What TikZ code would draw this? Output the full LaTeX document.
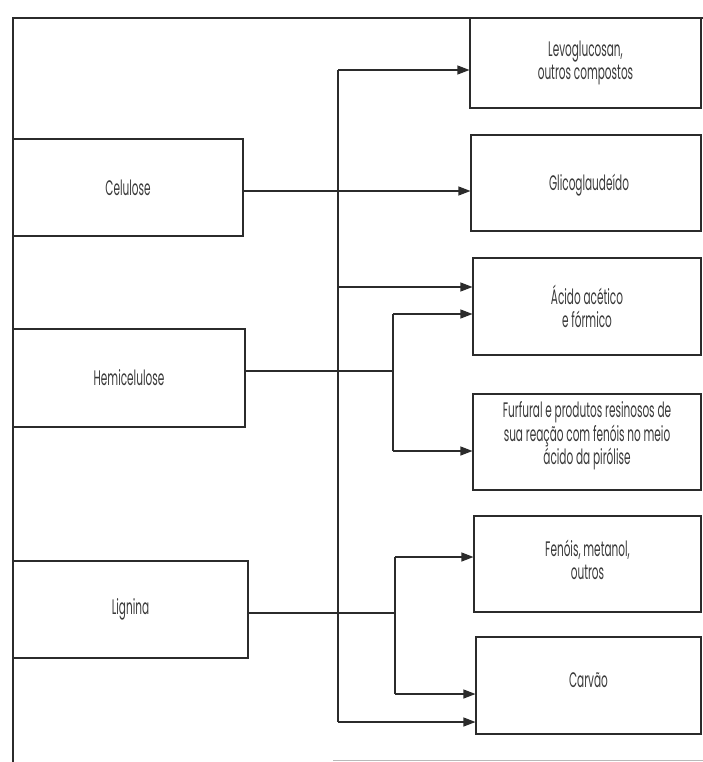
\documentclass[tikz,border=0pt]{standalone}
\usepackage{fontspec}
\setmainfont{Poppins}[FakeStretch=0.5]
\usetikzlibrary{arrows.meta}
\definecolor{ink}{HTML}{2B2B2B}
\definecolor{txt}{HTML}{3A3A3A}
\begin{document}
\begin{tikzpicture}[x=1pt,y=-1pt,
  box/.style={draw=ink, line width=1.1pt, inner sep=0pt, rectangle},
  lbl/.style={text=txt, font=\fontsize{21}{23.5}\selectfont, align=center, inner sep=0pt},
  conn/.style={draw=ink, line width=1.1pt},
  arr/.style={conn, -{Triangle[length=12pt,width=9pt]}}]
\useasboundingbox (0,0) rectangle (703,762);

% outer frame
\draw[conn] (13,762) -- (13,18) -- (703,18);
\draw[gray!55, line width=1pt] (333,760) -- (703,760);

% left boxes
\node[box, lbl, minimum width=230pt, minimum height=97pt] (cel) at (128,187.5) {Celulose};
\node[box, lbl, minimum width=232pt, minimum height=98pt] (hemi) at (129,378) {Hemicelulose};
\node[box, lbl, minimum width=235pt, minimum height=97pt] (lig) at (130.5,609.5) {Lignina};

% right boxes
\node[box, minimum width=231pt, minimum height=90pt] (levo) at (585.5,63) {};
\node[box, minimum width=230pt, minimum height=96pt] (glico) at (586,183) {};
\node[box, minimum width=228pt, minimum height=97pt] (acido) at (587,306.5) {};
\node[box, minimum width=228pt, minimum height=96pt] (furf) at (587,442) {};
\node[box, minimum width=227pt, minimum height=96pt] (fenol) at (587.5,564) {};
\node[box, minimum width=225pt, minimum height=97pt] (carv) at (588.5,685.5) {};

\node[lbl] (tlevo) at (levo.center) {Levoglucosan,\\outros compostos};
\node[lbl] (tglico) at ([xshift=3pt,yshift=-2pt]glico.center) {Glicoglaudeído};
\node[lbl] (tacido) at (acido.center) {Ácido acético\\e fórmico};
\node[lbl] (tfurf) at ([yshift=6pt]furf.center) {Furfural e produtos resinosos de\\sua reação com fenóis no meio\\ácido da pirólise};
\node[lbl] (tfenol) at ([yshift=4pt]fenol.center) {Fenóis, metanol,\\outros};
\node[lbl] (tcarv) at ([yshift=5pt]carv.center) {Carvão};

% junction coordinates
\coordinate (cY) at (290,191);
\coordinate (tTop) at (338,70);
\coordinate (tAc) at (338,287);
\coordinate (tBot) at (338,722);
\coordinate (hJ) at (393,371);
\coordinate (hA) at (393,314);
\coordinate (hF) at (393,451);
\coordinate (lJ) at (395,613);
\coordinate (lA) at (395,557);
\coordinate (lC) at (395,694);

% celulose
\draw[arr] (cel.east |- cY) -- (glico.west |- cY);
\draw[conn] (tTop) -- (tBot);
\draw[arr] (tTop) -- (tTop -| levo.west);
\draw[arr] (tAc) -- (tAc -| acido.west);
\draw[arr] (tBot) -- (tBot -| carv.west);

% hemicelulose
\draw[conn] (hemi.east |- hJ) -- (hJ);
\draw[conn] (hA) -- (hF);
\draw[arr] (hA) -- (hA -| acido.west);
\draw[arr] (hF) -- (hF -| furf.west);

% lignina
\draw[conn] (lig.east |- lJ) -- (lJ);
\draw[conn] (lA) -- (lC);
\draw[arr] (lA) -- (lA -| fenol.west);
\draw[arr] (lC) -- (lC -| carv.west);
\end{tikzpicture}
\end{document}
